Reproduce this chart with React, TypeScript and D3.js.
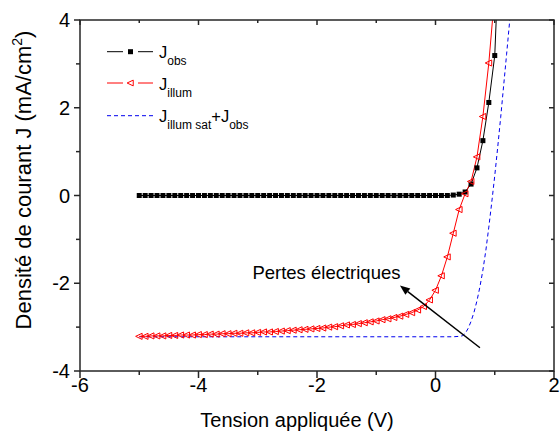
import React from "react";
import * as d3 from "d3";

// ---- data ----
const voltage = [
  -5.0, -4.9, -4.8, -4.7, -4.6, -4.5, -4.4, -4.3, -4.2, -4.1,
  -4.0, -3.9, -3.8, -3.7, -3.6, -3.5, -3.4, -3.3, -3.2, -3.1,
  -3.0, -2.9, -2.8, -2.7, -2.6, -2.5, -2.4, -2.3, -2.2, -2.1,
  -2.0, -1.9, -1.8, -1.7, -1.6, -1.5, -1.4, -1.3, -1.2, -1.1,
  -1.0, -0.9, -0.8, -0.7, -0.6, -0.5, -0.4, -0.3, -0.2, -0.1,
  0.0, 0.1, 0.2, 0.3, 0.4, 0.5, 0.6, 0.7, 0.8, 0.9, 1.0, 1.1,
];
const jObs = [
  0, 0, 0, 0, 0, 0, 0, 0, 0, 0,
  0, 0, 0, 0, 0, 0, 0, 0, 0, 0,
  0, 0, 0, 0, 0, 0, 0, 0, 0, 0,
  0, 0, 0, 0, 0, 0, 0, 0, 0, 0,
  0, 0, 0, 0, 0, 0, 0, 0, 0, 0,
  0, 0, 0, 0.01, 0.03, 0.08, 0.26, 0.63, 1.25, 2.12, 3.19, 6.5,
];
const jIllum = [
  -3.21, -3.21, -3.2, -3.2, -3.2, -3.19, -3.19, -3.18, -3.18, -3.18,
  -3.17, -3.17, -3.16, -3.16, -3.15, -3.15, -3.14, -3.14, -3.13, -3.13,
  -3.12, -3.11, -3.11, -3.1, -3.09, -3.08, -3.07, -3.06, -3.05, -3.04,
  -3.03, -3.02, -3.0, -2.99, -2.97, -2.95, -2.94, -2.92, -2.9, -2.88,
  -2.86, -2.83, -2.81, -2.78, -2.75, -2.71, -2.67, -2.61, -2.53, -2.38,
  -2.16, -1.83, -1.4, -0.86, -0.32, 0.04, 0.32, 0.88, 1.8, 3.02, 4.6, NaN,
];
const vSat = [-5.0, 0.3, 0.4, 0.45, 0.5, 0.55, 0.6, 0.65, 0.7, 0.75, 0.8, 0.85, 0.9, 0.95, 1.0, 1.05, 1.1, 1.15, 1.2, 1.25, 1.3];
const jSat = [-3.22, -3.22, -3.21, -3.2, -3.15, -3.03, -2.87, -2.66, -2.4, -2.08, -1.7, -1.25, -0.72, -0.15, 0.45, 1.1, 1.78, 2.5, 3.22, 3.95, 4.7];

const xTicks = [-6, -4, -2, 0, 2];
const xMinor = [-5, -3, -1, 1];
const yTicks = [-4, -2, 0, 2, 4];
const yMinor = [-3, -1, 1, 3];

const annotationText = "Pertes électriques";
const arrowFrom = [0.75, -3.47];
const arrowTo = [-0.6, -2.05];
const textAt = [-3.09, -1.91];

const FONT = "'Liberation Sans', Arial, Helvetica, sans-serif";

export default function App() {
  const W = 560, H = 432;
  const left = 80, right = 554, top = 20, bottom = 371;
  const x = d3.scaleLinear().domain([-6, 2]).range([left, right]);
  const y = d3.scaleLinear().domain([-4, 4]).range([bottom, top]);

  const obsPts = voltage.map((v, i) => [v, jObs[i]] as [number, number]);
  const illPts = voltage.map((v, i) => [v, jIllum[i]] as [number, number]).filter((d) => !isNaN(d[1]));
  const satPts = vSat.map((v, i) => [v, jSat[i]] as [number, number]);

  const line = d3.line<[number, number]>().x((d) => x(d[0])).y((d) => y(d[1]));

  const inside = (d: [number, number]) => d[1] <= 4 && d[1] >= -4;

  const axisColor = "#262626";

  // arrow geometry
  const ax1 = x(arrowFrom[0]), ay1 = y(arrowFrom[1]);
  const ax2 = x(arrowTo[0]), ay2 = y(arrowTo[1]);
  const ang = Math.atan2(ay2 - ay1, ax2 - ax1);
  const hl = 10, hw = 4;
  const bx = ax2 - hl * Math.cos(ang), by = ay2 - hl * Math.sin(ang);
  const head = [
    [ax2, ay2],
    [bx + hw * Math.sin(ang), by - hw * Math.cos(ang)],
    [bx - hw * Math.sin(ang), by + hw * Math.cos(ang)],
  ];

  const tri = (cx: number, cy: number, s: number) =>
    `M${cx - s},${cy} L${cx + s * 0.8},${cy - s * 0.85} L${cx + s * 0.8},${cy + s * 0.85} Z`;

  return (
    <svg width={W} height={H} style={{ position: "absolute", left: 0, top: 0, background: "#fff" }} fontFamily={FONT}>
      <defs>
        <clipPath id="plotclip">
          <rect x={left} y={top} width={right - left} height={bottom - top} />
        </clipPath>
      </defs>
      <rect x={0} y={0} width={W} height={H} fill="#fff" />

      <g clipPath="url(#plotclip)">
        <path d={line(satPts) || ""} fill="none" stroke="#0000ee" strokeWidth={1} strokeDasharray="4,3" />
        <path d={line(obsPts) || ""} fill="none" stroke="#000" strokeWidth={1} />
        <path d={line(illPts) || ""} fill="none" stroke="#ff0000" strokeWidth={1} />
        {obsPts.filter(inside).map((d, i) => (
          <rect key={"o" + i} x={x(d[0]) - 2.5} y={y(d[1]) - 2.5} width={5} height={5} fill="#000" />
        ))}
        {illPts.filter(inside).map((d, i) => (
          <path key={"t" + i} d={tri(x(d[0]), y(d[1]), 3.6)} fill="#fff" fillOpacity={0} stroke="#ff0000" strokeWidth={1} />
        ))}
      </g>

      {/* frame */}
      <rect x={left} y={top} width={right - left} height={bottom - top} fill="none" stroke={axisColor} strokeWidth={1.5} />

      {/* x ticks */}
      {xTicks.map((t) => (
        <g key={"xt" + t}>
          <line x1={x(t)} x2={x(t)} y1={bottom} y2={bottom + 7} stroke={axisColor} strokeWidth={1.5} />
          <line x1={x(t)} x2={x(t)} y1={top} y2={top + 5} stroke={axisColor} strokeWidth={1.5} />
          <text x={x(t)} y={392} fontSize={20} textAnchor="middle" fill="#000">{t}</text>
        </g>
      ))}
      {xMinor.map((t) => (
        <g key={"xm" + t}>
          <line x1={x(t)} x2={x(t)} y1={bottom} y2={bottom + 4} stroke={axisColor} strokeWidth={1.5} />
          <line x1={x(t)} x2={x(t)} y1={top} y2={top + 3} stroke={axisColor} strokeWidth={1.5} />
        </g>
      ))}
      {/* y ticks */}
      {yTicks.map((t) => (
        <g key={"yt" + t}>
          <line x1={left - 6} x2={left} y1={y(t)} y2={y(t)} stroke={axisColor} strokeWidth={1.5} />
          <line x1={right - 5} x2={right} y1={y(t)} y2={y(t)} stroke={axisColor} strokeWidth={1.5} />
          <text x={70} y={y(t)} dy="0.36em" fontSize={20} textAnchor="end" fill="#000">{t}</text>
        </g>
      ))}
      {yMinor.map((t) => (
        <g key={"ym" + t}>
          <line x1={left - 4} x2={left} y1={y(t)} y2={y(t)} stroke={axisColor} strokeWidth={1.5} />
          <line x1={right - 3} x2={right} y1={y(t)} y2={y(t)} stroke={axisColor} strokeWidth={1.5} />
        </g>
      ))}

      {/* axis titles */}
      <text x={297} y={427} fontSize={20} textAnchor="middle" fill="#000">Tension appliquée (V)</text>
      <text transform={`translate(31,180) rotate(-90)`} fontSize={22} textAnchor="middle" fill="#000">
        Densité de courant J (mA/cm<tspan fontSize={14} dy={-9}>2</tspan><tspan dy={9}>)</tspan>
      </text>

      {/* annotation */}
      <line x1={ax1} y1={ay1} x2={bx} y2={by} stroke="#000" strokeWidth={1.5} />
      <polygon points={head.map((p) => p.join(",")).join(" ")} fill="#000" />
      <text x={x(textAt[0])} y={y(textAt[1])} fontSize={18.5} fill="#000">{annotationText}</text>

      {/* legend */}
      <g>
        <line x1={107} x2={123} y1={51.7} y2={51.7} stroke="#000" strokeWidth={1} />
        <line x1={138} x2={153} y1={51.7} y2={51.7} stroke="#000" strokeWidth={1} />
        <rect x={128} y={49.2} width={5} height={5} fill="#000" />
        <text x={159} y={58.3} fontSize={16.5} fill="#000">
          J<tspan fontSize={12} dy={7}>obs</tspan>
        </text>

        <line x1={107} x2={123} y1={83} y2={83} stroke="#ff0000" strokeWidth={1} />
        <line x1={138} x2={153} y1={83} y2={83} stroke="#ff0000" strokeWidth={1} />
        <path d={tri(130.5, 83, 3.4)} fill="none" stroke="#ff0000" strokeWidth={1} />
        <text x={159} y={89.6} fontSize={16.5} fill="#000">
          J<tspan fontSize={12} dy={7}>illum</tspan>
        </text>

        <line x1={107} x2={153} y1={115.7} y2={115.7} stroke="#0000ee" strokeWidth={1} strokeDasharray="4,3" />
        <text x={159} y={122.3} fontSize={16.5} fill="#000">
          J<tspan fontSize={12} dy={7}>illum sat</tspan><tspan dy={-7}>+J</tspan><tspan fontSize={12} dy={7}>obs</tspan>
        </text>
      </g>
    </svg>
  );
}
